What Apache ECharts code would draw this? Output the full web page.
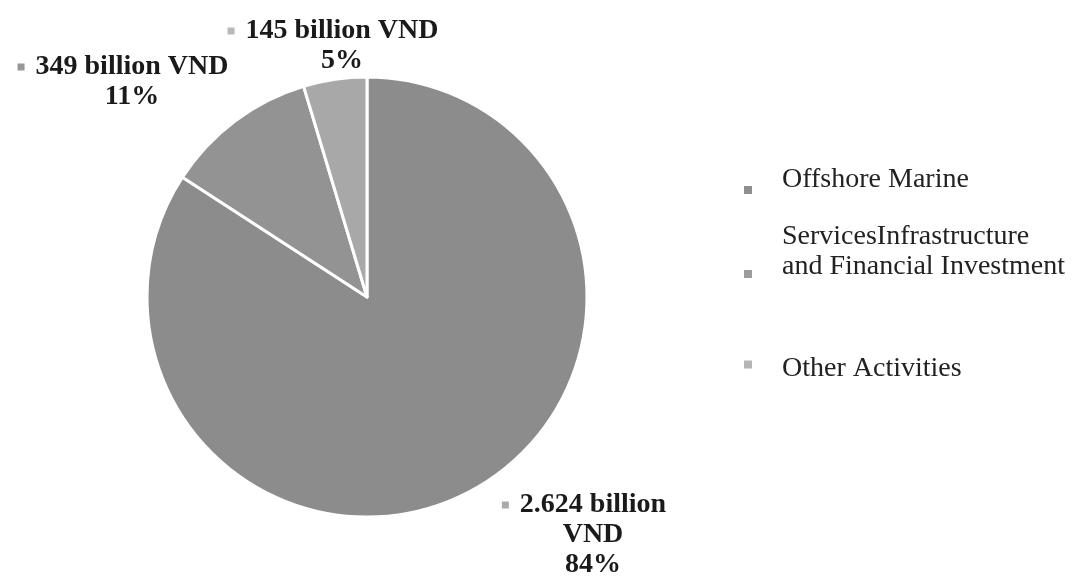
<!DOCTYPE html>
<html>
<head>
<meta charset="utf-8">
<script src="https://cdn.jsdelivr.net/npm/echarts@6/dist/echarts.min.js"></script>
<style>
  html, body { margin: 0; padding: 0; background: #ffffff; }
  #chart { width: 1079px; height: 578px; }
</style>
</head>
<body>
<div id="chart"></div>
<script>
// ---- data ----
const categories = ['Offshore Marine', 'ServicesInfrastructure and Financial Investment', 'Other Activities'];
const values = [2624, 349, 145];            // billion VND
const legendLines = [['Offshore Marine'], ['ServicesInfrastructure', 'and Financial Investment'], ['Other Activities']];

// ---- styling / layout ----
const sliceColors = ['#8c8c8c', '#939393', '#a8a8a8'];
const labelMarkerColors = ['#ababab', '#979797', '#b9b9b9'];
const legendMarkerColors = ['#8f8f8f', '#9c9c9c', '#b5b5b5'];
const labelPos = [[593, 535], [132, 82], [342, 46]];
const labelWrap = [true, false, false];
// legend: [icon centre y, text block centre y]
const legendRows = [[191, 181], [275, 253], [368, 372]];
const LEGEND_FONT = 28, LEGEND_LH = 30, ICON = 10;

function fmtValue(v) {
  return String(v).replace(/\B(?=(\d{3})+(?!\d))/g, '.');
}

const chart = echarts.init(document.getElementById('chart'), null, { renderer: 'canvas' });

const rich = {
  t: { fontFamily: 'Liberation Serif', fontWeight: 'bold', fontSize: 28, color: '#1a1a1a', lineHeight: 30 },
  g: { width: 11 },
  pad: { width: 18 }
};
labelMarkerColors.forEach((c, i) => {
  rich['m' + i] = { width: 7, height: 7, backgroundColor: c };
});

const legends = categories.map((name, i) => {
  const H = legendLines[i].length * LEGEND_LH;
  const d = legendRows[i][1] - legendRows[i][0];   // text centre minus icon centre
  const spacer = Math.abs(2 * d);
  const boxH = H + spacer;
  const textLines = legendLines[i].map(s => '{t|' + s + '}');
  let text;
  if (d < 0) text = textLines.join('\n') + '\n{s| }';
  else if (d > 0) text = '{s| }\n' + textLines.join('\n');
  else text = textLines.join('\n');
  const top = Math.min(legendRows[i][0] - ICON / 2, legendRows[i][0] - boxH / 2);
  return {
    orient: 'vertical',
    left: 742,
    top: top,
    padding: 0,
    itemWidth: ICON,
    itemHeight: ICON,
    icon: 'rect',
    selectedMode: false,
    data: [{ name: name, itemStyle: { color: legendMarkerColors[i] } }],
    formatter: () => text,
    textStyle: {
      fontFamily: 'Liberation Serif',
      fontSize: LEGEND_FONT,
      color: '#222222',
      padding: [0, 0, 0, 24],
      rich: {
        t: { fontFamily: 'Liberation Serif', fontSize: LEGEND_FONT, color: '#222222', lineHeight: LEGEND_LH },
        s: { fontSize: 1, lineHeight: spacer || 1 }
      }
    }
  };
});

chart.setOption({
  backgroundColor: '#ffffff',
  animation: false,
  legend: legends,
  series: [{
    type: 'pie',
    center: [367, 297],
    radius: 220,
    startAngle: 90,
    clockwise: true,
    emphasis: { disabled: true },
    itemStyle: { borderColor: '#ffffff', borderWidth: 3 },
    labelLine: { show: false },
    label: {
      show: true,
      position: 'outside',
      align: 'center',
      overflow: 'none',
      rich: rich,
      formatter: p => {
        const i = p.dataIndex;
        const v = fmtValue(p.value);
        const pct = Math.round(p.percent) + '%';
        if (labelWrap[i]) {
          return '{m' + i + '|}{g|}{t|' + v + ' billion}{pad|}\n{t|VND}\n{t|' + pct + '}';
        }
        return '{m' + i + '|}{g|}{t|' + v + ' billion VND}{pad|}\n{t|' + pct + '}';
      }
    },
    labelLayout: params => ({
      x: labelPos[params.dataIndex][0],
      y: labelPos[params.dataIndex][1],
      align: 'center',
      verticalAlign: 'middle'
    }),
    data: categories.map((name, i) => ({
      name: name,
      value: values[i],
      itemStyle: { color: sliceColors[i] }
    }))
  }]
});
</script>
</body>
</html>
